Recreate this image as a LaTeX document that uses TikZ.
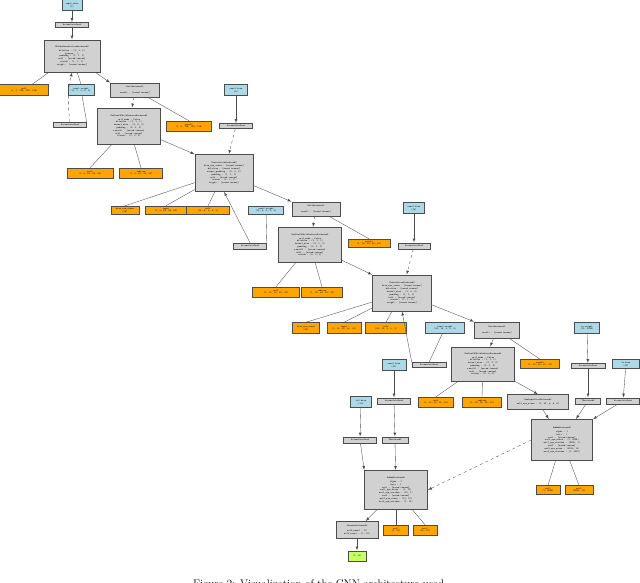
\documentclass[tikz,border=0pt]{standalone}
\begin{document}
\begin{tikzpicture}[x=1pt,y=-1pt,
 base/.style={draw=black!70,line width=0.5pt,inner sep=0.4pt,font=\fontsize{2.4}{2.8}\selectfont\ttfamily,align=center},
 gb/.style={base,fill=black!18},
 bb/.style={base,fill=cyan!25!blue!10!white,fill={rgb,255:red,173;green,216;blue,230}},
 ob/.style={base,fill={rgb,255:red,255;green,165;blue,0}},
 grb/.style={base,fill={rgb,255:red,200;green,255;blue,100}},
 ar/.style={-{latex},line width=0.35pt,black!70,shorten >=0.3pt},
 da/.style={ar,dashed},
 ln/.style={line width=0.35pt,black!70}]
\useasboundingbox (0,0) rectangle (640,582);
\clip (0,0) rectangle (640,582);
% row top
\node[bb,minimum width=20,minimum height=11] (in0) at (72,5) {input\_data\\(1)};
\node[gb,minimum width=33,minimum height=5] (ac0) at (72,25) {AccumulateGrad};
\node[gb,minimum width=56,minimum height=32] (cv1) at (72,56) {MkldnnConvolutionBackward0\\[1pt]dilation : (1, 1, 1)\\groups : 1\\padding : (1, 1, 1)\\self : [saved tensor]\\stride : (1, 1, 1)\\weight : [saved tensor]};
\node[ob,minimum width=49,minimum height=11] (o1) at (24,90) {self\\(1, 1, 128, 128, 128)};
\node[bb,minimum width=26,minimum height=11] (b1) at (81,90) {conv1.weight\\(8, 1, 3, 3, 3)};
\node[gb,minimum width=33,minimum height=5] (ac1) at (70,125) {AccumulateGrad};
\node[gb,minimum width=49,minimum height=14] (rl1) at (135,90) {ReluBackward0\\\rule{40pt}{0pt}\\result : [saved tensor]};
\node[gb,minimum width=63,minimum height=36] (mp1) at (129,126) {MaxPool3DWithIndicesBackward0\\[1pt]ceil\_mode : False\\dilation : (1, 1, 1)\\kernel\_size : (2, 2, 2)\\padding : (0, 0, 0)\\result1 : [saved tensor]\\self : [saved tensor]\\stride : (2, 2, 2)};
\node[ob,minimum width=45,minimum height=10] (o2) at (189,126) {result\\(1, 8, 128, 128, 128)};
\node[bb,minimum width=23,minimum height=11] (b2) at (236,90) {conv1.bias\\(8)};
\node[gb,minimum width=33,minimum height=5] (ac2) at (236,126) {AccumulateGrad};
\node[gb,minimum width=58,minimum height=37] (cv2) at (224,173) {ConvolutionBackward0\\[1pt]bias\_sym\_sizes : [saved tensor]\\dilation : [saved tensor]\\output\_padding : (0, 0, 0)\\padding : (1, 1, 1)\\self : [saved tensor]\\stride : (1, 1, 1)\\weight : [saved tensor]};
\node[ob,minimum width=46,minimum height=10] (o3) at (90,173) {self\\(1, 8, 64, 64, 64)};
\node[ob,minimum width=43,minimum height=10] (o4) at (141,173) {indices\\(1, 8, 64, 64, 64)};
\node[ob,minimum width=28,minimum height=8] (o5) at (125,210) {bias\_sym\_sizes\\(16)};
\node[ob,minimum width=42,minimum height=8] (o6) at (166,210) {input\\(1, 8, 64, 64, 64)};
\node[ob,minimum width=43,minimum height=8] (o7) at (208,210) {self\\(16, 8, 3, 3, 3)};
\node[bb,minimum width=35,minimum height=8] (b3) at (266,210) {conv2.weight\\(16, 8, 3, 3, 3)};
\node[gb,minimum width=33,minimum height=6] (ac3) at (250,246) {AccumulateGrad};
\node[gb,minimum width=48,minimum height=14] (rl2) at (316,209) {ReluBackward0\\\rule{38pt}{0pt}\\result : [saved tensor]};
\node[gb,minimum width=63,minimum height=35] (mp2) at (310,245) {MaxPool3DWithIndicesBackward0\\[1pt]ceil\_mode : False\\dilation : (1, 1, 1)\\kernel\_size : (2, 2, 2)\\padding : (0, 0, 0)\\result1 : [saved tensor]\\self : [saved tensor]\\stride : (2, 2, 2)};
\node[ob,minimum width=42,minimum height=8] (o8) at (369,243) {result\\(1, 16, 64, 64, 64)};
\node[bb,minimum width=21,minimum height=11] (b4) at (414,208) {conv2.bias\\(16)};
\node[gb,minimum width=32,minimum height=6] (ac4) at (414,246) {AccumulateGrad};
\node[gb,minimum width=59,minimum height=36] (cv3) at (402,293) {ConvolutionBackward0\\[1pt]bias\_sym\_sizes : [saved tensor]\\dilation : [saved tensor]\\kernel\_size : (3, 3, 3)\\padding : (1, 1, 1)\\self : [saved tensor]\\stride : (1, 1, 1)\\weight : [saved tensor]};
\node[ob,minimum width=47,minimum height=10] (o9) at (276,292) {self\\(1, 16, 32, 32, 32)};
\node[ob,minimum width=41,minimum height=10] (o10) at (322,292) {indices\\(1, 16, 32, 32, 32)};
\node[ob,minimum width=27,minimum height=11] (c3a) at (306,328) {bias\_sym\_sizes\\(32)};
\node[ob,minimum width=34,minimum height=11] (c3b) at (344,328) {input\\(1, 16, 32, 32, 32)};
\node[ob,minimum width=41,minimum height=11] (c3c) at (386,328) {self\\(32, 16, 3, 3, 3)};
\node[bb,minimum width=39,minimum height=11] (b5) at (445,328) {conv3.weight\\(32, 16, 3, 3, 3)};
\node[gb,minimum width=34,minimum height=5] (ac5) at (429,365) {AccumulateGrad};
\node[gb,minimum width=45,minimum height=16] (rl3) at (497,330) {ReluBackward0\\\rule{36pt}{0pt}\\result : [saved tensor]};
\node[gb,minimum width=63,minimum height=34] (mp3) at (483,364) {MaxPool3DWithIndicesBackward0\\[1pt]ceil\_mode : False\\dilation : (1, 1, 1)\\kernel\_size : (2, 2, 2)\\padding : (0, 0, 0)\\result1 : [saved tensor]\\self : [saved tensor]\\stride : (2, 2, 2)};
\node[ob,minimum width=39,minimum height=9] (o12) at (540,364) {result\\(1, 32, 32, 32, 32)};
\node[bb,minimum width=25,minimum height=11] (b6) at (587,328) {fc.weight\\(10, 4096)};
\node[gb,minimum width=34,minimum height=5] (ac6) at (588,366) {AccumulateGrad};
\node[bb,minimum width=27,minimum height=9] (b7) at (626,364) {fc.bias\\(10)};
\node[bb,minimum width=24,minimum height=11] (b8) at (394,365) {conv3.bias\\(32)};
\node[gb,minimum width=33,minimum height=6] (ac8) at (394,401) {AccumulateGrad};
\node[bb,minimum width=21,minimum height=11] (b9) at (361,402) {fc2.bias\\(10)};
\node[ob,minimum width=35,minimum height=10] (o13) at (436,402) {self\\(1, 32, 16, 16, 16)};
\node[ob,minimum width=39,minimum height=10] (o14) at (482,402) {indices\\(1, 32, 16, 16, 16)};
\node[gb,minimum width=61,minimum height=15] (rs) at (538,402) {ReshapeAliasBackward0\\[2pt]self\_sym\_sizes : (1, 32, 8, 8, 8)};
\node[gb,minimum width=25,minimum height=6] (tb) at (588,401) {TBackward0};
\node[gb,minimum width=33,minimum height=6] (ac7) at (623,401) {AccumulateGrad};
\node[gb,minimum width=61,minimum height=41] (am) at (562,440) {AddmmBackward0\\[1pt]alpha : 1\\beta : 1\\mat1 : [saved tensor]\\mat1\_sym\_sizes : (1, 4096)\\mat1\_sym\_strides : (4096, 1)\\mat2 : [saved tensor]\\mat2\_sym\_sizes : (4096, 10)\\mat2\_sym\_strides : (1, 4096)};
\node[ob,minimum width=24,minimum height=9] (o15) at (548,490) {mat1\\(1, 4096)};
\node[ob,minimum width=28,minimum height=9] (o16) at (579,490) {mat2\\(4096, 10)};
\node[gb,minimum width=33,minimum height=6] (ac9) at (360,440) {AccumulateGrad};
\node[gb,minimum width=26,minimum height=6] (tb2) at (395,440) {TBackward0};
\node[gb,minimum width=63,minimum height=39] (bn) at (396,490) {AddmmBackward0\\[1pt]alpha : 1\\beta : 1\\mat1 : [saved tensor]\\mat1\_sym\_sizes : (1, 10)\\mat1\_sym\_strides : (10, 1)\\mat2 : [saved tensor]\\mat2\_sym\_sizes : (10, 10)\\mat2\_sym\_strides : (1, 10)};
\node[ob,minimum width=25,minimum height=10] (o17) at (396,530) {mat1\\(1, 10)};
\node[ob,minimum width=24,minimum height=10] (o18) at (425,530) {mat2\\(10, 10)};
\node[gb,minimum width=42,minimum height=17] (fin) at (357,530) {PermuteBackward0\\[2pt]self\_numel : 10\\self\_sizes : (1, 10)};
\node[grb,minimum width=18,minimum height=10] (out) at (357,556) {(1, 10)};
\node[font=\fontsize{11}{13}\selectfont] (cap) at (320,585) {Figure 2: Visualization of the CNN architecture used.};
% edges
\draw[ar] (in0) -- (ac0);
\draw[ar] (ac0) -- (cv1);
\draw[ln] (cv1) -- (o1);
\draw[ln] (cv1) -- (b1.north);
\draw[ln] (b1) -- (ac1.north east);
\draw[da] (ac1.north) to[bend left=10] (cv1.south);
\draw[ar] (cv1) -- (rl1.north west);
\draw[da] (rl1) -- (mp1);
\draw[ln] (rl1) -- (o2.north);
\draw[ln] (mp1) -- (o3.north);
\draw[ln] (mp1) -- (o4.north);
\draw[ar] (mp1) -- (cv2.north west);
\draw[ar] (b2) -- (ac2);
\draw[da] (ac2) -- (cv2);
\draw[ln] (cv2) -- (o5.north);
\draw[ln] (cv2) -- (o6.north);
\draw[ln] (cv2) -- (o7.north);
\draw[ln] (b3) -- (ac3.north east);
\draw[ar] (ac3.north) -- (cv2.south);
\draw[ar] (cv2) -- (rl2.north west);
\draw[da] (rl2) -- (mp2);
\draw[ln] (rl2) -- (o8.north);
\draw[ln] (mp2) -- (o9.north);
\draw[ln] (mp2) -- (o10.north);
\draw[ar] (mp2) -- (cv3.north west);
\draw[ar] (b4) -- (ac4);
\draw[da] (ac4) -- (cv3);
\draw[ln] (cv3) -- (c3a.north);
\draw[ln] (cv3) -- (c3b.north);
\draw[ln] (cv3) -- (c3c.north);
\draw[ln] (b5) -- (ac5.north);
\draw[ar] (ac5.north west) -- (cv3.south);
\draw[ar] (cv3) -- (rl3.north west);
\draw[ar] (rl3) -- (mp3);
\draw[ln] (rl3) -- (o12.north);
\draw[ln] (mp3) -- (o13.north);
\draw[ln] (mp3) -- (o14.north);
\draw[ar] (mp3.south east) -- (rs.north);
\draw[ar] (b6) -- (ac6);
\draw[ar] (ac6) -- (tb);
\draw[ar] (b7) -- (ac7);
\draw[ar] (rs) -- (am);
\draw[ar] (tb) -- (am);
\draw[ar] (ac7) -- (am.north east);
\draw[ln] (am) -- (o15.north);
\draw[ln] (am) -- (o16.north);
\draw[ar] (b8) -- (ac8);
\draw[ar] (ac8) -- (tb2);
\draw[ar] (b9) -- (ac9);
\draw[ar] (ac9) -- (bn.north west);
\draw[ar] (tb2) -- (bn);
\draw[da] (am.west) -- (bn.east);
\draw[ar] (bn) -- (fin);
\draw[ln] (bn) -- (o17);
\draw[ln] (bn) -- (o18.north);
\draw[ar] (fin) -- (out);
\end{tikzpicture}
\end{document}
